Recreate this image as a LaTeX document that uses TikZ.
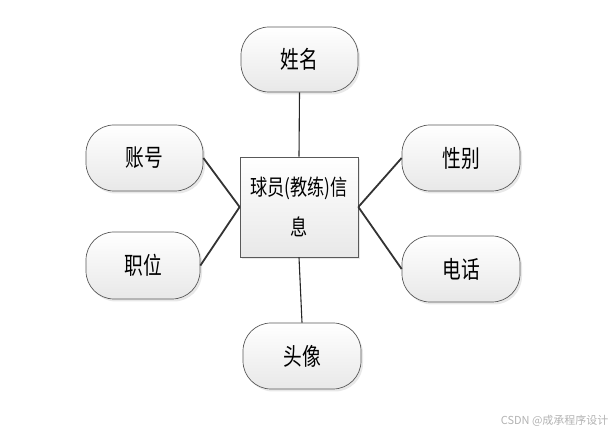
\documentclass[tikz,border=0pt]{standalone}
\usepackage{fontspec}
\setmainfont{Noto Sans CJK SC}
\usetikzlibrary{shadows}
\newcommand{\nar}[1]{\scalebox{0.78}[1]{#1}}
\begin{document}
\begin{tikzpicture}[x=1pt,y=-1pt,
  attr/.style={draw=black!65, line width=0.7pt, rounded corners=28pt,
    top color=white, bottom color=black!9, inner sep=0pt,
    drop shadow={opacity=0.18, shadow xshift=2pt, shadow yshift=-2.5pt},
    font=\fontsize{24}{26}\selectfont},
  ent/.style={draw=black!65, line width=0.7pt, rectangle,
    top color=white, bottom color=black!9, inner sep=0pt,
    drop shadow={opacity=0.18, shadow xshift=2pt, shadow yshift=-2.5pt},
    minimum width=118pt, minimum height=100pt, align=center,
    font=\fontsize{22}{40}\selectfont},
  conn/.style={draw=black!80, line width=1.8pt},
  vconn/.style={draw=black!85, line width=1.1pt}]
\path[use as bounding box] (0,0) rectangle (616,435);
\node[ent] (c) at (299,207) {\nar{球员(教练)信}\\\nar{息}};
\node[attr, minimum width=117pt, minimum height=65pt] (n1) at (299.5,59.5) {\nar{姓名}};
\node[attr, minimum width=117pt, minimum height=66pt] (n2) at (144.5,158) {\nar{账号}};
\node[attr, minimum width=114pt, minimum height=67pt] (n3) at (143,265.5) {\nar{职位}};
\node[attr, minimum width=118pt, minimum height=66pt] (n4) at (461,158) {\nar{性别}};
\node[attr, minimum width=118pt, minimum height=66pt] (n5) at (461,269) {\nar{电话}};
\node[attr, minimum width=118pt, minimum height=66pt] (n6) at (302,356) {\nar{头像}};
\draw[vconn] (n1.south) -- (c.north);
\draw[vconn] (c.south) -- (n6.north);
\draw[conn] (n2.east) -- (c.west);
\draw[conn] (n3.east) -- (c.west);
\draw[conn] (c.east) -- (n4.west);
\draw[conn] (c.east) -- (n5.west);
\node[text=black!30, font=\fontsize{11}{13}\selectfont, anchor=east] (wm) at (612,421) {CSDN @成承程序设计};
\end{tikzpicture}
\end{document}
